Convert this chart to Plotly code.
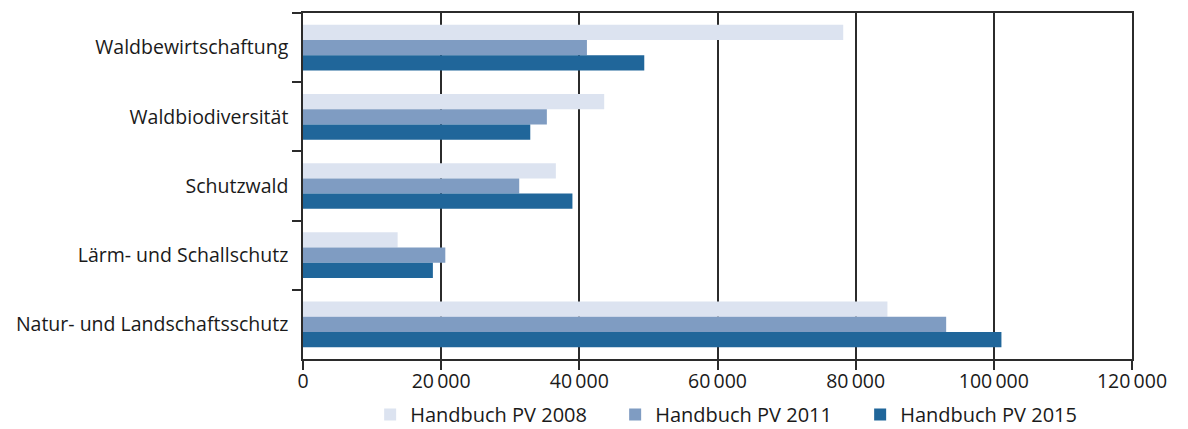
import plotly.graph_objects as go

categories = ["Waldbewirtschaftung", "Waldbiodiversität", "Schutzwald",
              "Lärm- und Schallschutz", "Natur- und Landschaftsschutz"]
series_names = ["Handbuch PV 2008", "Handbuch PV 2011", "Handbuch PV 2015"]
values_2008 = [78200, 43600, 36600, 13700, 84600]
values_2011 = [41100, 35300, 31300, 20600, 93100]
values_2015 = [49400, 32900, 39000, 18800, 101100]
colors = ["#dce3f0", "#7f9cc2", "#20669a"]
tick_vals = [0, 20000, 40000, 60000, 80000, 100000, 120000]
tick_text = ["0", "20\u2009000", "40\u2009000", "60\u2009000", "80\u2009000", "100\u2009000", "120\u2009000"]

FONT = "Open Sans"
fig = go.Figure()
for name, vals, col in zip(series_names, [values_2008, values_2011, values_2015], colors):
    fig.add_trace(go.Bar(y=categories, x=vals, name=name, orientation="h",
                         marker=dict(color=col, line=dict(width=0))))

fig.update_layout(
    width=1188, height=429,
    margin=dict(l=303, r=56, t=13, b=70, autoexpand=False),
    barmode="group", bargap=0.34, bargroupgap=0,
    plot_bgcolor="white", paper_bgcolor="white",
    font=dict(family=FONT, size=19.5, color="#1a1a1a"),
    showlegend=True,
    legend=dict(orientation="h", x=0.081, xanchor="left", y=-0.104, yanchor="top",
                traceorder="normal", font=dict(size=20),
                entrywidth=200, entrywidthmode="pixels",
                bgcolor="rgba(0,0,0,0)"),
)
fig.update_xaxes(range=[0, 120000], tickvals=tick_vals, ticktext=tick_text,
                 showgrid=True, gridcolor="#2b2b2b", gridwidth=1.5,
                 showline=True, linecolor="#2b2b2b", linewidth=1.5, mirror=True,
                 ticks="outside", ticklen=9, tickcolor="#2b2b2b", tickwidth=1.5,
                 zeroline=False, tickfont=dict(size=19.5), automargin=False,
                 ticklabelstandoff=-5)
fig.update_yaxes(autorange="reversed", showline=True, linecolor="#2b2b2b", linewidth=1.5,
                 mirror=True, ticks="outside", tickson="boundaries", ticklen=9,
                 tickcolor="#2b2b2b", tickwidth=1.5, showgrid=False,
                 tickfont=dict(size=19.5), ticklabelstandoff=9, automargin=False)
fig.write_html("out.html", config={"displayModeBar": False},
               post_script="document.body.style.margin='0';")
